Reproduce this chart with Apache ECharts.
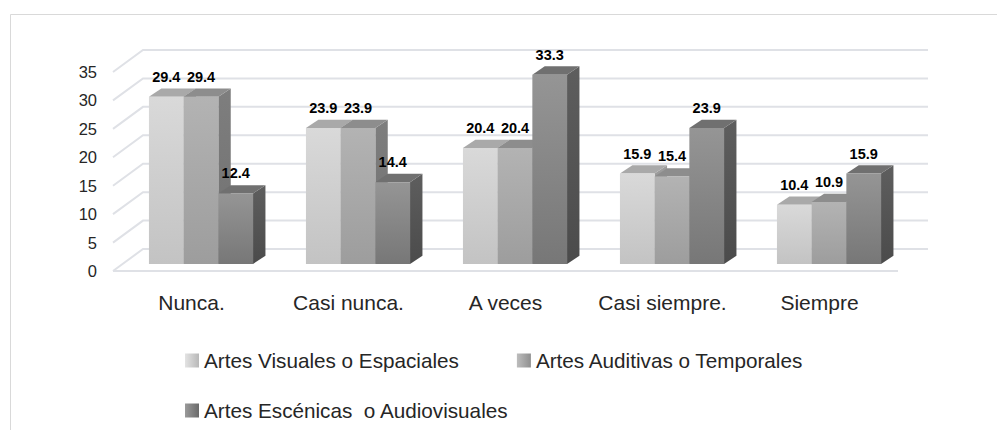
<!DOCTYPE html>
<html>
<head>
<meta charset="utf-8">
<title>Artes</title>
<script src="https://cdn.jsdelivr.net/npm/echarts@6/dist/echarts.min.js"></script>
<style>
    html, body { margin: 0; padding: 0; background: #fff; }
    #chart { width: 997px; height: 430px; }
</style>
</head>
<body>
<div id="chart"></div>
<script>
// datos
var categories = ['Nunca.', 'Casi nunca.', 'A veces', 'Casi siempre.', 'Siempre'];
var seriesNames = ['Artes Visuales o Espaciales', 'Artes Auditivas o Temporales', 'Artes Escénicas  o Audiovisuales'];
var visuales = [29.4, 23.9, 20.4, 15.9, 10.4];
var auditivas = [29.4, 23.9, 20.4, 15.4, 10.9];
var escenicas = [12.4, 14.4, 33.3, 23.9, 15.9];
var yTicks = [0, 5, 10, 15, 20, 25, 30, 35];

// planos del efecto 3D (en px respecto al plano frontal de las barras)
var FRONT = [-9.5, 7];
var BACK = [20.5, -15];
var DEPTH = [12.4, -8.3];
var BAR_RATIO = 0.221;
var FONT = '"Liberation Sans", Arial, sans-serif';

var shades = [
    { front: ['#d9d9d9', '#c3c3c3'], top: '#a9a9a9', side: ['#9d9d9d', '#8f8f8f'], icon: ['#e3e3e3', '#b8b8b8'] },
    { front: ['#b3b3b3', '#9d9d9d'], top: '#8d8d8d', side: ['#7e7e7e', '#707070'], icon: ['#bdbdbd', '#8f8f8f'] },
    { front: ['#959595', '#777777'], top: '#707070', side: ['#5e5e5e', '#4b4b4b'], icon: ['#9a9a9a', '#6a6a6a'] }
];

function vgrad(c) {
    return new echarts.graphic.LinearGradient(0, 0, 0, 1, [
        { offset: 0, color: c[0] }, { offset: 1, color: c[1] }
    ]);
}
function hgrad(c) {
    return new echarts.graphic.LinearGradient(0, 0, 1, 0, [
        { offset: 0, color: c[0] }, { offset: 1, color: c[1] }
    ]);
}

function barRenderer(k) {
    return function (params, api) {
        var cat = api.value(0), v = api.value(1);
        var base = api.coord([cat, 0]);
        var top = api.coord([cat, v]);
        var w = api.size([1, 0])[0] * BAR_RATIO;
        var x0 = base[0] + (k - 1.5) * w, x1 = x0 + w;
        var y0 = base[1], y1 = top[1];
        var dx = DEPTH[0], dy = DEPTH[1];
        var s = shades[k];
        return {
            type: 'group',
            children: [
                {
                    type: 'polygon',
                    shape: { points: [[x1, y1], [x1 + dx, y1 + dy], [x1 + dx, y0 + dy], [x1, y0]] },
                    style: { fill: vgrad(s.side) }
                },
                {
                    type: 'polygon',
                    shape: { points: [[x0, y1], [x0 + dx, y1 + dy], [x1 + dx, y1 + dy], [x1, y1]] },
                    style: { fill: s.top }
                },
                {
                    type: 'rect',
                    shape: { x: x0, y: y1, width: w, height: y0 - y1 },
                    style: { fill: vgrad(s.front) }
                },
                {
                    type: 'text',
                    z2: 100,
                    style: {
                        text: v.toFixed(1),
                        x: (x0 + x1) / 2,
                        y: y1 - 20,
                        align: 'center',
                        verticalAlign: 'middle',
                        font: 'bold 14.5px ' + FONT,
                        fill: '#000'
                    }
                }
            ]
        };
    };
}

function gridRenderer(params, api) {
    var cs = params.coordSys;
    var y = api.coord([0, api.value(1)])[1];
    var left = cs.x, right = cs.x + cs.width;
    var style = { stroke: '#dfe1e6', lineWidth: 2, fill: null };
    var children = [{
        type: 'polyline',
        shape: { points: [
            [left + FRONT[0], y + FRONT[1]],
            [left + BACK[0], y + BACK[1]],
            [right + BACK[0], y + BACK[1]]
        ] },
        style: style
    }];
    if (api.value(1) === 0) {
        children.push({
            type: 'line',
            shape: { x1: left + FRONT[0], y1: y + FRONT[1], x2: right + FRONT[0], y2: y + FRONT[1] },
            style: style
        });
    }
    return { type: 'group', children: children };
}

var chart = echarts.init(document.getElementById('chart'), null, { renderer: 'svg' });

var values = [visuales, auditivas, escenicas];
var barSeries = values.map(function (arr, k) {
    return {
        name: seriesNames[k],
        type: 'custom',
        xAxisIndex: 0,
        yAxisIndex: 0,
        clip: false,
        z: 3,
        itemStyle: { color: hgrad(shades[k].icon) },
        renderItem: barRenderer(k),
        data: arr.map(function (v, i) { return [i, v]; })
    };
});

var legendText = { fontFamily: FONT, fontSize: 20.7, color: '#262626' };

chart.setOption({
    animation: false,
    graphic: [{
        type: 'rect',
        silent: true,
        shape: { x: 10.5, y: 14.5, width: 1100, height: 500 },
        style: { fill: 'none', stroke: '#d9d9d9', lineWidth: 1 }
    }],
    grid: [
        // plano frontal de las barras
        { left: 122.5, top: 65, width: 785, height: 199 },
        // plano delantero (etiquetas de los ejes)
        { left: 113, top: 72, width: 785, height: 199 }
    ],
    xAxis: [
        { gridIndex: 0, type: 'category', data: categories, show: false },
        {
            gridIndex: 1, type: 'category', data: categories,
            axisLine: { show: false }, axisTick: { show: false },
            axisLabel: { interval: 0, margin: 21, fontFamily: FONT, fontSize: 21, color: '#262626' }
        }
    ],
    yAxis: [
        { gridIndex: 0, type: 'value', min: 0, max: 35, interval: 5, show: false },
        {
            gridIndex: 1, type: 'value', min: 0, max: 35, interval: 5,
            splitLine: { show: false }, axisLine: { show: false }, axisTick: { show: false },
            axisLabel: { margin: 16, fontFamily: FONT, fontSize: 16.5, color: '#262626' }
        }
    ],
    legend: [
        {
            data: [seriesNames[0], seriesNames[1]],
            left: 180, top: 345,
            icon: 'rect', itemWidth: 14, itemHeight: 14, itemGap: 58,
            selectedMode: false,
            textStyle: legendText
        },
        {
            data: [seriesNames[2]],
            left: 180, top: 395,
            icon: 'rect', itemWidth: 14, itemHeight: 14,
            selectedMode: false,
            textStyle: legendText
        }
    ],
    series: [{
        type: 'custom',
        xAxisIndex: 0,
        yAxisIndex: 0,
        clip: false,
        silent: true,
        z: 1,
        renderItem: gridRenderer,
        data: yTicks.map(function (v) { return [0, v]; })
    }].concat(barSeries)
});

window.addEventListener('resize', function () {
    chart.resize();
});
</script>
</body>
</html>
